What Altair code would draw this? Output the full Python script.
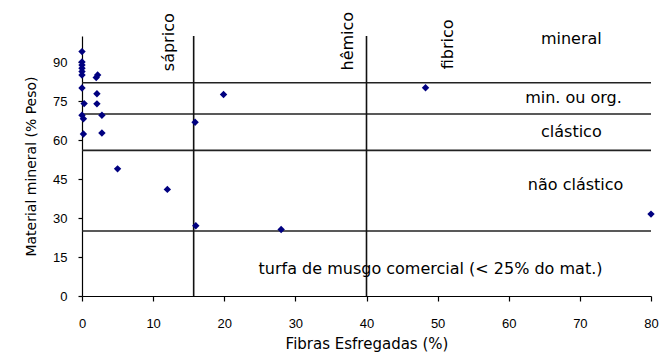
import altair as alt
import pandas as pd

# data points
fibras = [0, 0, 0, 0, 0, 0, 0, 0.3, 0, 0.2, 0.2, 2.2, 2.0, 2.1, 2.1, 2.8, 2.8,
          5.0, 12.0, 16.0, 15.9, 19.9, 28.0, 48.3, 80.0]
mineral = [94, 90, 88.8, 87.6, 86.3, 85, 80, 74, 69.5, 68.2, 62.3, 85, 84, 77.8,
           73.9, 69.5, 62.7, 48.9, 41, 27, 66.8, 77.5, 25.6, 80.1, 31.5]

# class boundaries
h_lines = [82, 70, 56, 25]
v_lines = [15.7, 40]

# annotations
ann_h_text = ["mineral", "min. ou org.", "clástico", "não clástico",
              "turfa de musgo comercial (< 25% do mat.)"]
ann_h_x = [68.8, 69.1, 68.8, 69.4, 49.0]
ann_h_y = [98.8, 76.0, 63.2, 42.7, 10.2]

ann_v_text = ["sáprico", "hêmico", "fibrico"]
ann_v_x = [12.2, 37.4, 51.5]
ann_v_y = [97.6, 98.0, 96.8]

FONT = "DejaVu Sans"
TICKFONT = "Liberation Sans"

pts = pd.DataFrame({"x": fibras, "y": mineral})
hl = pd.DataFrame({"y": h_lines, "x0": [0] * len(h_lines), "x1": [80] * len(h_lines)})
vl = pd.DataFrame({"x": v_lines, "y0": [0] * len(v_lines), "y1": [100] * len(v_lines)})
ah = pd.DataFrame({"t": ann_h_text, "x": ann_h_x, "y": ann_h_y})
av = pd.DataFrame({"t": ann_v_text, "x": ann_v_x, "y": ann_v_y})

xs = alt.Scale(domain=[0, 80], nice=False)
ys = alt.Scale(domain=[0, 100], nice=False)

xaxis = alt.Axis(title="Fibras Esfregadas (%)", values=list(range(0, 81, 10)),
                 grid=False, tickSize=5, labelPadding=16, titlePadding=6,
                 labelFlush=False,
                 domainColor="black", tickColor="black", labelColor="black",
                 labelFont=TICKFONT, labelFontSize=13, titleFont=FONT,
                 titleFontSize=15, titleFontWeight="normal", titleColor="black")
yaxis = alt.Axis(title="Material mineral (% Peso)", values=list(range(0, 91, 15)),
                 grid=False, tickSize=4, labelPadding=11, titlePadding=14,
                 labelFlush=False,
                 domainColor="black", tickColor="black", labelColor="black",
                 labelFont=TICKFONT, labelFontSize=13, titleFont=FONT,
                 titleFontSize=14, titleFontWeight="normal", titleColor="black")

base_pts = alt.Chart(pts).mark_point(shape="diamond", filled=True, size=55,
                                     color="#000080", opacity=1).encode(
    x=alt.X("x:Q", scale=xs, axis=xaxis),
    y=alt.Y("y:Q", scale=ys, axis=yaxis),
)

hrules = alt.Chart(hl).mark_rule(color="#222", strokeWidth=1.6).encode(
    x=alt.X("x0:Q", scale=xs), x2="x1:Q", y=alt.Y("y:Q", scale=ys))
vrules = alt.Chart(vl).mark_rule(color="#111", strokeWidth=1.6).encode(
    x=alt.X("x:Q", scale=xs), y=alt.Y("y0:Q", scale=ys), y2="y1:Q")

txt_h = alt.Chart(ah).mark_text(font=FONT, fontSize=16, color="black",
                                align="center", baseline="middle").encode(
    x=alt.X("x:Q", scale=xs), y=alt.Y("y:Q", scale=ys), text="t:N")
txt_v = alt.Chart(av).mark_text(font=FONT, fontSize=16, color="black", angle=270,
                                align="center", baseline="middle").encode(
    x=alt.X("x:Q", scale=xs), y=alt.Y("y:Q", scale=ys), text="t:N")

chart = alt.layer(hrules, vrules, base_pts, txt_h, txt_v).properties(
    width=569, height=260,
    autosize=alt.AutoSizeParams(type="none"),
    padding={"left": 74, "top": 28, "right": 9, "bottom": 60},
    background="white",
).configure_view(stroke=None).configure_axis(domainWidth=1.2, tickWidth=1.2)

chart.save("out.html", embed_options={"renderer": "svg", "actions": False})
